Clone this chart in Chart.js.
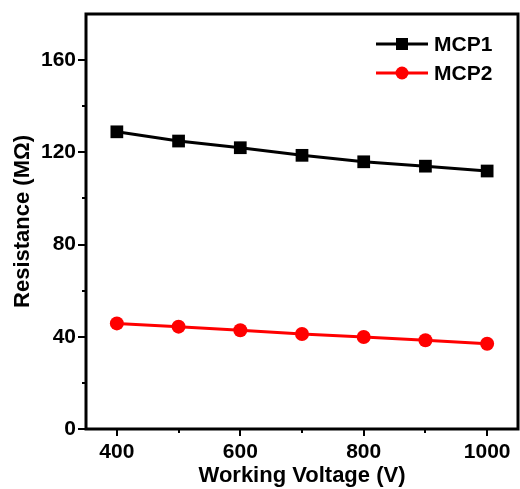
<!DOCTYPE html>
<html>
<head>
<meta charset="utf-8">
<script src="https://cdn.jsdelivr.net/npm/chart.js@4/dist/chart.umd.min.js"></script>
<style>
  html, body { margin: 0; padding: 0; background: #fff; overflow: hidden; }
  #wrap { width: 520px; height: 489px; position: relative; }
  canvas { display: block; }
</style>
</head>
<body>
<div id="wrap"><canvas id="chart"></canvas></div>
<script>
// ===== Data =====
const voltages = [400, 500, 600, 700, 800, 900, 1000];
const mcp1 = [128.9, 124.9, 122.0, 118.7, 115.9, 114.0, 111.9];
const mcp2 = [45.8, 44.4, 42.8, 41.2, 39.9, 38.5, 37.0];
const xTicks = [400, 500, 600, 700, 800, 900, 1000];
const yTicks = [0, 20, 40, 60, 80, 100, 120, 140, 160];

const FONT = '"Liberation Sans", Arial, sans-serif';

// frame + tick marks drawn by hand (major long, minor short, outward)
const framePlugin = {
    id: 'frame',
    afterDraw(c) {
        const ctx = c.ctx, a = c.chartArea;
        const xs = c.scales.x, ys = c.scales.y;
        ctx.save();
        ctx.strokeStyle = '#000';
        ctx.lineWidth = 3;
        ctx.strokeRect(a.left, a.top, a.right - a.left, a.bottom - a.top);
        ctx.lineWidth = 2;
        ctx.beginPath();
        yTicks.forEach(v => {
            const y = Math.round(ys.getPixelForValue(v));
            const len = v % 40 === 0 ? 8 : 4;
            ctx.moveTo(a.left, y);
            ctx.lineTo(a.left - len, y);
        });
        xTicks.forEach(v => {
            const x = Math.round(xs.getPixelForValue(v));
            const len = v % 200 === 0 ? 7 : 4;
            ctx.moveTo(x, a.bottom);
            ctx.lineTo(x, a.bottom + len);
        });
        ctx.stroke();
        ctx.restore();
    }
};

// legend inside the plot, top right
const legendPlugin = {
    id: 'insideLegend',
    afterDraw(c) {
        const ctx = c.ctx;
        ctx.save();
        c.data.datasets.forEach((ds, i) => {
            const y = 44 + i * 29;
            ctx.strokeStyle = ds.borderColor;
            ctx.fillStyle = ds.borderColor;
            ctx.lineWidth = 3;
            ctx.beginPath();
            ctx.moveTo(376, y);
            ctx.lineTo(428, y);
            ctx.stroke();
            if (ds.pointStyle === 'rect') {
                ctx.fillRect(396, y - 6, 12, 12);
            } else {
                ctx.beginPath();
                ctx.arc(402, y, 6.5, 0, Math.PI * 2);
                ctx.fill();
            }
            ctx.fillStyle = '#000';
            ctx.font = 'bold 21px ' + FONT;
            ctx.textBaseline = 'middle';
            ctx.textAlign = 'left';
            ctx.fillText(ds.label, 434, y + 1);
        });
        ctx.restore();
    }
};

function noPad(s) {
    s.paddingTop = 0; s.paddingBottom = 0; s.paddingLeft = 0; s.paddingRight = 0;
}

new Chart(document.getElementById('chart'), {
    type: 'line',
    data: {
        datasets: [
            {
                label: 'MCP1',
                data: voltages.map((v, i) => ({ x: v, y: mcp1[i] })),
                borderColor: '#000',
                backgroundColor: '#000',
                borderWidth: 3,
                pointStyle: 'rect',
                pointRadius: 9,
                pointBorderWidth: 0
            },
            {
                label: 'MCP2',
                data: voltages.map((v, i) => ({ x: v, y: mcp2[i] })),
                borderColor: '#ff0000',
                backgroundColor: '#ff0000',
                borderWidth: 3,
                pointStyle: 'circle',
                pointRadius: 7,
                pointBorderWidth: 0
            }
        ]
    },
    options: {
        responsive: true,
        maintainAspectRatio: false,
        animation: false,
        layout: { autoPadding: false, padding: { top: 14, right: 2, left: 0, bottom: 0 } },
        plugins: { legend: { display: false }, tooltip: { enabled: false } },
        scales: {
            x: {
                type: 'linear',
                min: 350, max: 1050,
                afterBuildTicks: s => { s.ticks = xTicks.filter(v => v % 200 === 0).map(v => ({ value: v })); },
                afterFit: s => { s.height = 60; noPad(s); },
                grid: { display: false, drawTicks: false },
                border: { display: false },
                ticks: { color: '#000', padding: 11, callback: v => String(v), font: { family: FONT, weight: 'bold', size: 21 } },
                title: { display: true, text: 'Working Voltage (V)', color: '#000', padding: { top: 0, bottom: 0 }, font: { family: FONT, weight: 'bold', size: 22 } }
            },
            y: {
                min: 0, max: 180,
                afterBuildTicks: s => { s.ticks = yTicks.filter(v => v % 40 === 0).map(v => ({ value: v })); },
                afterFit: s => { s.width = 86; noPad(s); },
                grid: { display: false, drawTicks: false },
                border: { display: false },
                ticks: { color: '#000', padding: 10, font: { family: FONT, weight: 'bold', size: 21 } },
                title: { display: true, text: 'Resistance (MΩ)', color: '#000', padding: { top: 10, bottom: 0 }, font: { family: FONT, weight: 'bold', size: 22 } }
            }
        }
    },
    plugins: [framePlugin, legendPlugin]
});
</script>
</body>
</html>
